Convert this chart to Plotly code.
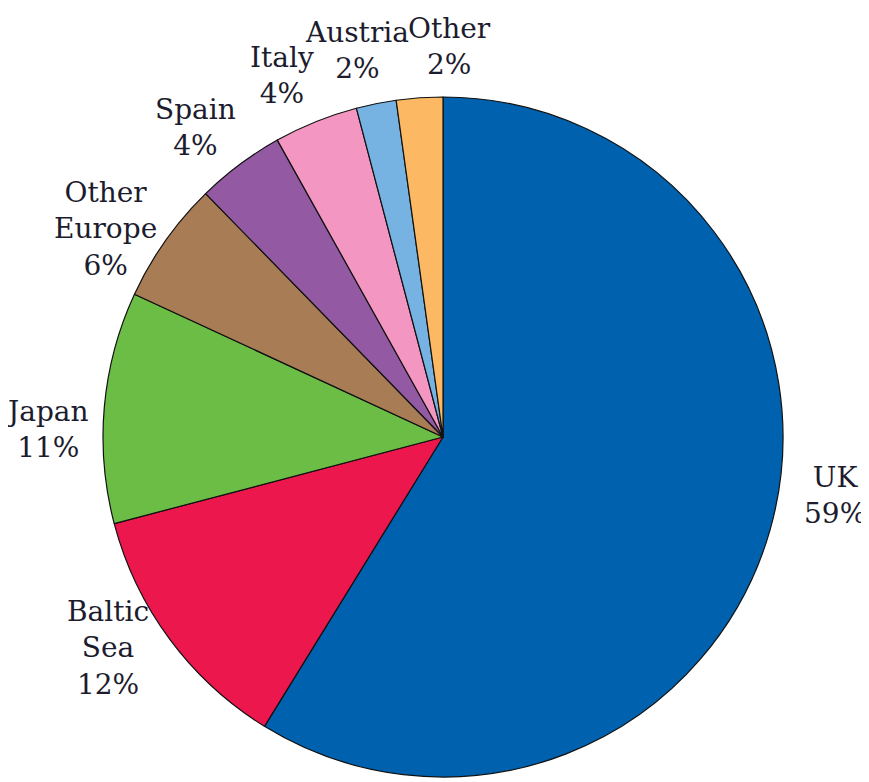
import math
import plotly.graph_objects as go

# ---- data ----
labels = ["UK", "Baltic<br>Sea", "Japan", "Other<br>Europe", "Spain", "Italy", "Austria", "Other"]
values = [58.8, 12.1, 11.0, 5.8, 4.2, 4.0, 1.9, 2.2]
colors = ["#0061AE", "#EC174C", "#6CBD45", "#A87C55", "#9359A2", "#F397C2", "#76B3E2", "#FDB863"]

# ---- layout / style ----
PAGE_OFFSET = 8                    # browser's default body margin
W, H = 869 - PAGE_OFFSET, 782 - PAGE_OFFSET
CX, CY, R = 443 - PAGE_OFFSET, 437 - PAGE_OFFSET, 340   # pie centre and radius in figure pixels
LABEL_R = 1.165 * R                # label distance from centre
label_nudge_deg = [-7.3, 4.3, -4.0, -3.6, -2.0, -2.1, -1.2, 4.9]  # small angular offsets for readability
FONT = dict(family="DejaVu Serif, Liberation Serif, serif", size=28, color="#1c1c2e")

fig = go.Figure(go.Pie(
    labels=labels,
    values=values,
    sort=False,
    direction="clockwise",
    rotation=0,
    marker=dict(colors=colors, line=dict(color="#111111", width=1.2)),
    textinfo="none",
    hoverinfo="label+percent",
    automargin=False,
    showlegend=False,
    domain=dict(x=[(CX - R) / W, (CX + R) / W],
                y=[(H - (CY + R)) / H, (H - (CY - R)) / H]),
))

# labels placed at each slice's mid-angle (derived from the values)
total = sum(values)
cum = 0.0
annotations = []
for lab, v, nudge in zip(labels, values, label_nudge_deg):
    mid = (cum + v / 2) / total
    cum += v
    theta = math.radians(mid * 360 + nudge)  # clockwise from 12 o'clock
    px = CX + LABEL_R * math.sin(theta)
    py = CY - LABEL_R * math.cos(theta)
    n_lines = f"{lab}<br>x".count("<br>") + 1
    half_box = n_lines * 1.3 * FONT["size"] / 2 + 2
    py = max(py, half_box)           # keep the label box inside the figure
    pct = f"{round(100 * v / total)}%"
    annotations.append(dict(
        x=px / W, y=(H - py) / H, xref="paper", yref="paper",
        text=f"{lab}<br>{pct}", showarrow=False,
        xanchor="center", yanchor="middle", align="center",
        font=FONT,
    ))

fig.update_layout(
    width=W, height=H,
    margin=dict(l=0, r=0, t=0, b=0),
    paper_bgcolor="white",
    plot_bgcolor="white",
    annotations=annotations,
)
fig.write_html("out.html")
